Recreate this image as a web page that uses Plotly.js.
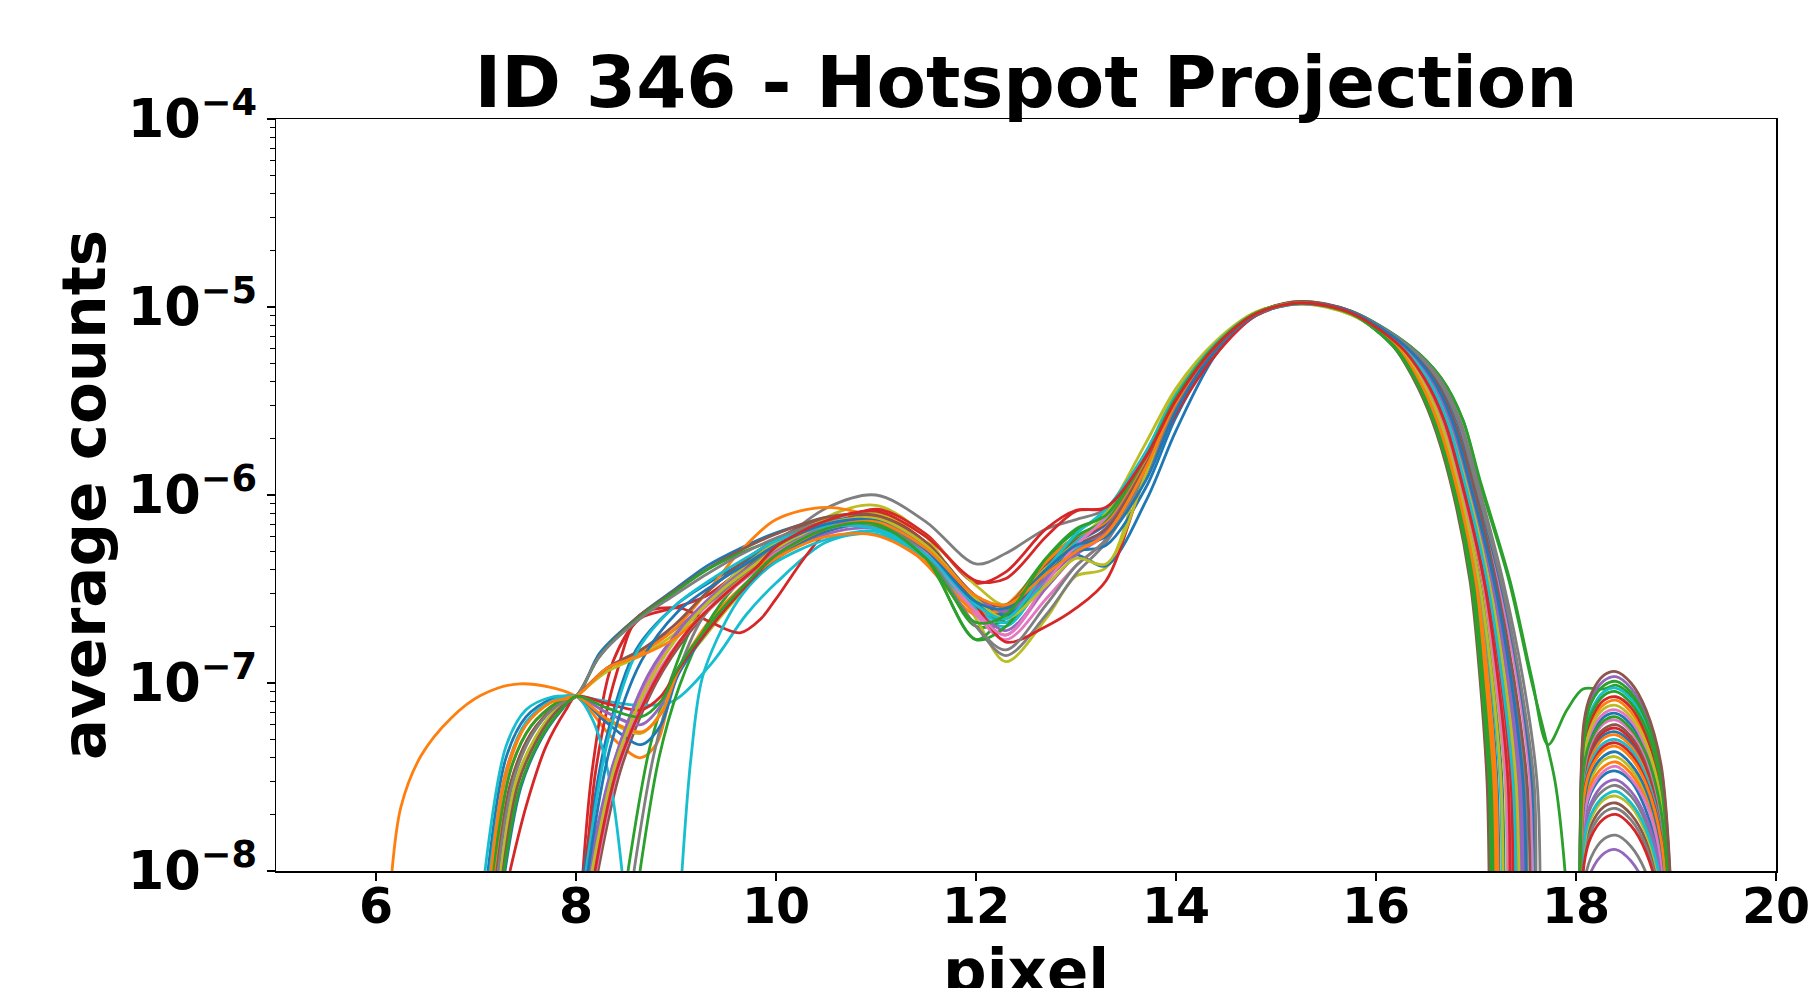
<!DOCTYPE html>
<html><head><meta charset="utf-8">
<script src="https://cdn.plot.ly/plotly-3.0.1.min.js"></script>
<style>html,body{margin:0;padding:0;background:#fff;} #chart{width:1811px;height:988px;}</style>
</head><body><div id="chart"></div>
<script>
// shared x grid for the middle part of every projection
const coreX = [10.0, 10.5, 11.0, 11.5, 12.0, 12.3, 12.7, 13.0, 13.3, 13.7, 14.0, 14.4, 14.8, 15.25, 15.75];
// levels at which the falling edge of each curve was read (x per series in tailX)
const tailLevels = [6.2e-6, 4.2e-6, 2.5e-6, 1.2e-6, 3.5e-7, 1.05e-7, 3e-8, 1e-8];
// x grid of the small secondary bump near pixel 18.4
const arcX = [18.04, 18.08, 18.15, 18.28, 18.4, 18.55, 18.7, 18.85, 18.94];

const headX = [
 [7.12,7.3,7.5,7.75,8.0,8.24,8.64,8.97,9.31,9.64],
 [6.16,6.25,6.45,6.75,7.05,7.44,8.0,8.35,8.64,8.81,9.0,9.35,9.7],
 [8.52,8.74,8.95,9.22,9.55,9.8],
 [8.07,8.17,8.37,8.64,8.97,9.3,9.65],
 [8.12,8.37,8.71,9.04,9.4,9.75],
 [8.22,8.45,8.8,9.15,9.5,9.8],
 [8.15,8.4,8.75,9.1,9.45,9.8],
 [7.2,7.35,7.55,7.8,8.0,8.31,8.65,8.97,9.3,9.64],
 [7.25,7.4,7.6,7.8,8.0,8.3,8.65,8.85,9.0,9.3,9.65],
 [7.09,7.3,7.5,7.75,8.0,8.3,8.64,8.97,9.37,9.7],
 [8.08,8.3,8.6,9.0,9.4,9.75],
 [7.16,7.3,7.5,7.75,8.0,8.31,8.65,8.97,9.3,9.64],
 [8.64,8.83,9.03,9.3,9.6,9.85],
 [8.1,8.2,8.4,8.64,9.04,9.35,9.64,9.85],
 [7.22,7.35,7.55,7.8,8.0,8.3,8.65,8.85,9.0,9.3,9.65],
 [7.2,7.35,7.55,7.8,8.0,8.22,8.6,8.95,9.3,9.62],
 [8.18,8.42,8.78,9.12,9.48,9.8],
 [8.58,8.78,8.98,9.26,9.6,9.85],
 [7.25,7.4,7.6,7.8,8.0,8.31,8.65,8.97,9.3,9.64],
 [7.14,7.3,7.5,7.75,8.0,8.17,8.34,8.46,null,9.06,9.15,9.27,9.57,9.8],
 [7.29,7.45,7.65,7.85,8.0,8.3,8.65,8.85,9.02,9.35,9.68],
 [7.18,7.35,7.55,7.8,8.0,8.3,8.66,8.86,9.02,9.35,9.68],
 [7.17,7.35,7.55,7.8,8.0,8.24,8.62,8.97,9.31,9.64],
 [7.34,7.5,7.7,7.9,8.0,8.3,8.65,8.85,9.03,9.35,9.68],
 [8.14,8.38,8.72,9.06,9.42,9.78],
 [7.27,7.42,7.62,7.82,8.0,8.31,8.65,8.97,9.3,9.64],
 [8.2,8.43,8.78,9.12,9.46,9.8],
 [7.22,7.37,7.57,7.8,8.0,8.24,8.64,8.97,9.31,9.64],
 [8.16,8.4,8.75,9.1,9.45,9.8],
 [8.1,8.32,8.62,9.0,9.4,9.75],
 [8.12,8.34,8.65,9.02,9.4,9.76],
 [7.15,7.3,7.5,7.75,8.0,8.31,8.65,8.97,9.3,9.64],
 [7.28,7.44,7.64,7.84,8.0,8.3,8.65,8.85,9.02,9.35,9.68],
 [8.19,8.42,8.78,9.12,9.47,9.8]
];
const headY = [
 [1e-8,4.0e-8,6.6e-8,8.2e-8,8.5e-8,1.45e-7,2.3e-7,3.1e-7,4.2e-7,5.2e-7],
 [1e-8,2.2e-8,4.1e-8,6.5e-8,8.6e-8,9.9e-8,8.5e-8,5.2e-8,4.0e-8,4.8e-8,1.1e-7,2.2e-7,3.4e-7],
 [1e-8,4.6e-8,1.05e-7,2.3e-7,3.6e-7,4.5e-7],
 [1e-8,3.7e-8,1.3e-7,2.2e-7,2.5e-7,2.9e-7,4.0e-7],
 [1e-8,3.7e-8,1.05e-7,1.9e-7,3.0e-7,4.2e-7],
 [1e-8,3.5e-8,1.0e-7,1.9e-7,3.0e-7,4.0e-7],
 [1e-8,4e-8,1.1e-7,2.0e-7,3.0e-7,4.2e-7],
 [1e-8,2.8e-8,5.2e-8,7.6e-8,8.5e-8,1.2e-7,1.5e-7,1.9e-7,2.6e-7,3.7e-7],
 [1e-8,3e-8,5.2e-8,7.2e-8,8.5e-8,6.4e-8,5.4e-8,7.0e-8,1.1e-7,1.8e-7,3.0e-7],
 [1e-8,4.6e-8,7.2e-8,8.4e-8,8.5e-8,8.0e-8,7.6e-8,8.0e-8,1.3e-7,2.3e-7],
 [1e-8,5e-8,1.5e-7,2.6e-7,3.6e-7,4.6e-7],
 [1e-8,3.2e-8,6.0e-8,7.9e-8,8.5e-8,1.2e-7,1.45e-7,1.9e-7,3.0e-7,5.0e-7],
 [1e-8,4e-8,9.5e-8,2.0e-7,3.3e-7,4.2e-7],
 [1e-8,3.5e-8,1.1e-7,2.3e-7,2.5e-7,2.1e-7,1.85e-7,2.2e-7],
 [1e-8,2.9e-8,5.3e-8,7.5e-8,8.5e-8,7.0e-8,6.0e-8,7.6e-8,1.15e-7,1.9e-7,3.1e-7],
 [1e-8,3.0e-8,5.4e-8,7.6e-8,8.5e-8,1.35e-7,2.2e-7,3.0e-7,4.0e-7,5.0e-7],
 [1e-8,3.8e-8,1.05e-7,1.9e-7,2.9e-7,4.0e-7],
 [1e-8,4.2e-8,1.0e-7,2.2e-7,3.5e-7,4.4e-7],
 [1e-8,3.0e-8,5.2e-8,7.2e-8,8.5e-8,1.15e-7,1.4e-7,1.8e-7,2.7e-7,4.0e-7],
 [1e-8,3.4e-8,6.2e-8,8.0e-8,8.5e-8,6.3e-8,3e-8,1e-8,null,1e-8,4e-8,1.1e-7,2.5e-7,3.6e-7],
 [1e-8,2.8e-8,5.0e-8,7.1e-8,8.5e-8,6.2e-8,4.7e-8,6.0e-8,1.1e-7,2.0e-7,3.2e-7],
 [1e-8,3.5e-8,5.9e-8,7.8e-8,8.5e-8,6.5e-8,5.5e-8,7.0e-8,1.15e-7,2.1e-7,3.3e-7],
 [1e-8,3.5e-8,5.9e-8,7.8e-8,8.5e-8,1.4e-7,2.2e-7,3.0e-7,4.0e-7,4.9e-7],
 [1e-8,2.2e-8,4.6e-8,7.2e-8,8.5e-8,7.8e-8,7.2e-8,8.5e-8,1.2e-7,2.0e-7,3.2e-7],
 [1e-8,3.8e-8,1.1e-7,2.0e-7,3.1e-7,4.3e-7],
 [1e-8,2.9e-8,5.1e-8,7.2e-8,8.5e-8,1.2e-7,1.5e-7,2.0e-7,3.0e-7,4.3e-7],
 [1e-8,3.6e-8,1.0e-7,1.9e-7,2.9e-7,4.0e-7],
 [1e-8,3.0e-8,5.4e-8,7.5e-8,8.5e-8,1.4e-7,2.2e-7,2.9e-7,3.8e-7,4.8e-7],
 [1e-8,3.8e-8,1.05e-7,2.0e-7,3.1e-7,4.3e-7],
 [1e-8,5e-8,1.5e-7,2.6e-7,3.7e-7,4.8e-7],
 [1e-8,4.5e-8,1.3e-7,2.4e-7,3.4e-7,4.5e-7],
 [1e-8,3.4e-8,6.0e-8,7.9e-8,8.5e-8,1.2e-7,1.4e-7,1.7e-7,2.4e-7,3.5e-7],
 [1e-8,2.8e-8,5.0e-8,7.1e-8,8.5e-8,7.4e-8,6.6e-8,8.0e-8,1.2e-7,2.1e-7,3.3e-7],
 [1e-8,3.6e-8,1.0e-7,1.9e-7,2.9e-7,4.1e-7]
];
const coreY = [
 [6.3e-7,7.4e-7,7.0e-7,4.8e-7,2.6e-7,2.5e-7,4.2e-7,5.6e-7,7.0e-7,1.6e-6,3.3e-6,6.3e-6,9.3e-6,1.06e-5,9.4e-6],
 [4.6e-7,6.4e-7,7.0e-7,5.0e-7,2.6e-7,2.3e-7,3.8e-7,5.2e-7,6.6e-7,1.5e-6,3.2e-6,6.2e-6,9.2e-6,1.05e-5,9.3e-6],
 [5.2e-7,6.8e-7,7.2e-7,5.0e-7,2.0e-7,2.2e-7,4.5e-7,6.0e-7,7.4e-7,1.55e-6,3.2e-6,6.2e-6,9.3e-6,1.06e-5,9.5e-6],
 [5.6e-7,7.4e-7,8.0e-7,5.6e-7,2.8e-7,2.3e-7,4.0e-7,5.6e-7,7.2e-7,1.55e-6,3.2e-6,6.2e-6,9.2e-6,1.05e-5,9.2e-6],
 [5.0e-7,6.6e-7,7.2e-7,5.2e-7,2.7e-7,2.2e-7,3.6e-7,5.0e-7,6.4e-7,1.4e-6,3.1e-6,6.1e-6,9.2e-6,1.06e-5,9.5e-6],
 [4.9e-7,6.7e-7,7.5e-7,5.4e-7,2.7e-7,2.1e-7,3.5e-7,5.0e-7,6.3e-7,1.4e-6,3.0e-6,6.0e-6,9.2e-6,1.07e-5,9.3e-6],
 [5.0e-7,6.5e-7,6.8e-7,4.8e-7,2.4e-7,1.8e-7,3.2e-7,4.8e-7,6.2e-7,1.4e-6,3.1e-6,6.2e-6,9.3e-6,1.05e-5,9.4e-6],
 [5.4e-7,8.5e-7,1.0e-6,7.2e-7,4.3e-7,4.9e-7,6.6e-7,7.4e-7,8.4e-7,1.6e-6,3.3e-6,6.3e-6,9.3e-6,1.06e-5,9.4e-6],
 [4.5e-7,7.6e-7,8.8e-7,6.0e-7,2.2e-7,1.3e-7,2.2e-7,3.7e-7,4.1e-7,1.6e-6,3.6e-6,6.5e-6,9.4e-6,1.04e-5,9.2e-6],
 [3.4e-7,5.6e-7,6.2e-7,4.6e-7,2.4e-7,2.0e-7,3.6e-7,5.2e-7,6.6e-7,1.45e-6,3.1e-6,6.1e-6,9.2e-6,1.05e-5,9.3e-6],
 [5.6e-7,7.2e-7,7.4e-7,5.2e-7,2.6e-7,2.4e-7,4.2e-7,4.8e-7,4.2e-7,9.3e-7,2.2e-6,5.6e-6,9.0e-6,1.05e-5,9.4e-6],
 [7.4e-7,8.6e-7,7.4e-7,4.3e-7,2.3e-7,2.6e-7,4.4e-7,6.0e-7,7.4e-7,1.6e-6,3.4e-6,6.4e-6,9.3e-6,1.06e-5,9.2e-6],
 [4.6e-7,6.4e-7,6.9e-7,4.6e-7,1.7e-7,2.4e-7,4.6e-7,6.4e-7,8.0e-7,1.6e-6,3.3e-6,6.3e-6,9.3e-6,1.05e-5,9.5e-6],
 [2.8e-7,6.3e-7,8.4e-7,6.2e-7,3.4e-7,3.9e-7,6.6e-7,8.3e-7,8.5e-7,1.5e-6,3.1e-6,6.1e-6,9.2e-6,1.05e-5,9.3e-6],
 [4.6e-7,6.2e-7,6.6e-7,4.8e-7,2.5e-7,1.9e-7,3.2e-7,4.8e-7,6.4e-7,1.4e-6,3.0e-6,6.1e-6,9.2e-6,1.05e-5,9.4e-6],
 [6.2e-7,7.6e-7,7.6e-7,5.3e-7,2.8e-7,2.6e-7,4.3e-7,5.8e-7,7.2e-7,1.6e-6,3.3e-6,6.3e-6,9.3e-6,1.06e-5,9.2e-6],
 [4.8e-7,6.4e-7,7.0e-7,5.0e-7,2.3e-7,1.7e-7,2.8e-7,4.2e-7,5.8e-7,1.3e-6,3.0e-6,6.1e-6,9.2e-6,1.05e-5,9.5e-6],
 [4.9e-7,6.5e-7,7.2e-7,4.8e-7,2.0e-7,1.4e-7,2.3e-7,3.8e-7,5.6e-7,1.3e-6,2.9e-6,6.0e-6,9.2e-6,1.05e-5,9.5e-6],
 [5.6e-7,7.4e-7,8.0e-7,6.0e-7,3.3e-7,2.6e-7,4.1e-7,5.6e-7,8.0e-7,1.9e-6,3.7e-6,6.6e-6,9.4e-6,1.04e-5,9.1e-6],
 [4.4e-7,5.8e-7,6.4e-7,4.6e-7,2.5e-7,2.1e-7,3.6e-7,5.6e-7,7.6e-7,1.7e-6,3.4e-6,6.4e-6,9.3e-6,1.05e-5,9.3e-6],
 [4.6e-7,6.4e-7,7.0e-7,5.0e-7,2.6e-7,2.3e-7,3.8e-7,5.0e-7,5.4e-7,1.1e-6,2.6e-6,5.9e-6,9.1e-6,1.05e-5,9.5e-6],
 [4.6e-7,6.0e-7,6.1e-7,4.4e-7,2.4e-7,2.5e-7,4.4e-7,6.0e-7,7.2e-7,1.5e-6,3.2e-6,6.2e-6,9.2e-6,1.05e-5,9.2e-6],
 [5.8e-7,6.9e-7,6.9e-7,4.6e-7,1.7e-7,2.0e-7,4.0e-7,6.0e-7,7.4e-7,1.6e-6,3.3e-6,6.3e-6,9.3e-6,1.06e-5,9.2e-6],
 [4.8e-7,6.6e-7,7.6e-7,5.6e-7,2.6e-7,1.65e-7,2.0e-7,2.5e-7,3.5e-7,1.3e-6,2.7e-6,5.6e-6,9.0e-6,1.05e-5,9.4e-6],
 [5.0e-7,6.8e-7,7.4e-7,5.3e-7,2.9e-7,2.4e-7,3.6e-7,5.0e-7,6.7e-7,1.45e-6,3.1e-6,6.1e-6,9.2e-6,1.05e-5,9.4e-6],
 [5.8e-7,7.6e-7,7.8e-7,5.6e-7,2.9e-7,2.6e-7,4.0e-7,5.4e-7,6.6e-7,1.45e-6,3.1e-6,6.2e-6,9.3e-6,1.07e-5,9.5e-6],
 [4.9e-7,6.6e-7,7.0e-7,4.9e-7,2.4e-7,1.8e-7,3.4e-7,5.4e-7,7.6e-7,1.6e-6,3.3e-6,6.2e-6,9.2e-6,1.05e-5,9.3e-6],
 [5.9e-7,7.2e-7,7.2e-7,4.8e-7,2.0e-7,1.5e-7,2.6e-7,4.2e-7,5.8e-7,1.3e-6,3.0e-6,6.0e-6,9.1e-6,1.04e-5,9.4e-6],
 [5.2e-7,7.0e-7,7.5e-7,5.4e-7,2.8e-7,2.2e-7,3.3e-7,4.6e-7,4.3e-7,1.3e-6,3.3e-6,6.3e-6,9.3e-6,1.05e-5,9.1e-6],
 [5.7e-7,6.8e-7,6.6e-7,4.8e-7,2.6e-7,2.2e-7,4.0e-7,6.2e-7,8.4e-7,1.7e-6,3.4e-6,6.3e-6,9.2e-6,1.04e-5,9.3e-6],
 [5.4e-7,7.0e-7,7.3e-7,5.1e-7,2.7e-7,2.5e-7,4.0e-7,5.4e-7,6.0e-7,1.2e-6,2.8e-6,6.0e-6,9.1e-6,1.05e-5,9.4e-6],
 [4.8e-7,6.6e-7,7.2e-7,5.2e-7,2.9e-7,2.6e-7,3.8e-7,5.0e-7,6.2e-7,1.4e-6,3.1e-6,6.2e-6,9.2e-6,1.05e-5,9.2e-6],
 [4.8e-7,6.6e-7,7.0e-7,4.6e-7,2.1e-7,2.3e-7,4.6e-7,6.6e-7,7.8e-7,1.6e-6,3.3e-6,6.3e-6,9.3e-6,1.05e-5,9.2e-6],
 [5.3e-7,7.3e-7,8.2e-7,6.0e-7,3.5e-7,3.6e-7,6.0e-7,8.2e-7,8.6e-7,1.6e-6,3.2e-6,6.2e-6,9.2e-6,1.05e-5,9.3e-6]
];
const tailX = [
 [16.22,16.45,16.64,16.82,17.04,17.17,17.26,17.28],
 [16.26,16.51,16.71,16.89,17.12,17.28,17.39,17.41],
 [16.34,16.65,16.87,17.04,17.34,17.56],
 [16.19,16.40,16.59,16.77,16.97,17.08,17.16,17.18],
 [16.27,16.53,16.73,16.91,17.14,17.31,17.42,17.45],
 [16.17,16.37,16.56,16.74,16.94,17.04,17.11,17.13],
 [16.24,16.49,16.69,16.86,17.09,17.23,17.34,17.36],
 [16.29,16.57,16.77,16.94,17.19,17.36,17.49,17.51],
 [16.23,16.46,16.66,16.83,17.06,17.19,17.29,17.31],
 [16.25,16.50,16.70,16.88,17.11,17.26,17.36,17.39],
 [16.20,16.42,16.62,16.79,17.01,17.13,17.21,17.23],
 [16.19,16.41,16.60,16.78,16.99,17.10,17.19,17.21],
 [16.34,16.65,16.87,17.03,17.33,17.55,17.79,17.89],
 [16.23,16.47,16.67,16.85,17.07,17.21,17.31,17.33],
 [16.28,16.55,16.76,16.93,17.17,17.34,17.46,17.49],
 [16.18,16.38,16.57,16.75,16.96,17.06,17.14,17.16],
 [16.31,16.59,16.80,16.97,17.22,17.41,17.54,17.56],
 [16.33,16.63,16.84,17.01,17.27,17.47,17.61,17.64],
 [16.26,16.52,16.72,16.90,17.13,17.29,17.40,17.43],
 [16.21,16.44,16.63,16.81,17.02,17.15,17.24,17.26],
 [16.31,16.60,16.81,16.98,17.24,17.43,17.56,17.59],
 [16.19,16.40,16.59,16.77,16.98,17.09,17.17,17.19],
 [16.17,16.38,16.57,16.75,16.95,17.05,17.13,17.15],
 [16.25,16.49,16.69,16.87,17.10,17.25,17.35,17.37],
 [16.28,16.54,16.74,16.92,17.16,17.32,17.44,17.47],
 [16.30,16.58,16.78,16.96,17.20,17.38,17.51,17.54],
 [16.23,16.47,16.67,16.84,17.07,17.20,17.30,17.32],
 [16.32,16.61,16.82,16.99,17.25,17.44,17.58,17.60],
 [16.21,16.44,16.64,16.81,17.03,17.16,17.25,17.27],
 [16.25,16.51,16.71,16.88,17.11,17.26,17.37,17.40],
 [16.29,16.56,16.76,16.93,17.18,17.35,17.47,17.50],
 [16.20,16.42,16.61,16.79,17.00,17.12,17.20,17.22],
 [16.18,16.39,16.58,16.76,16.97,17.07,17.15,17.17],
 [16.24,16.48,16.68,16.85,17.08,17.22,17.32,17.34]
];
// the green curve that dips to a cusp and climbs straight into its bump
const linkX = [17.72, 17.91, 18.07];
const linkY = [4.7e-8, 7.2e-8, 9.3e-8];
const arcY = [
 [6.0e-9,3.7e-8,5.2e-8,6.6e-8,6.9e-8,6.0e-8,4.3e-8,2.2e-8,6.0e-9],
 [7.0e-9,4.4e-8,6.2e-8,7.7e-8,8.1e-8,7.0e-8,5.1e-8,2.6e-8,7.0e-9],
 [8.5e-9,5.3e-8,7.4e-8,9.3e-8,9.75e-8,8.5e-8,6.1e-8,3.1e-8,8.5e-9],
 [7.4e-9,4.6e-8,6.4e-8,8.1e-8,8.45e-8,7.4e-8,5.3e-8,2.7e-8,7.4e-9],
 [9.4e-9,5.8e-8,8.2e-8,1.03e-7,1.08e-7,9.4e-8,6.8e-8,3.5e-8,9.4e-9],
 [2.0e-9,1.24e-8,1.75e-8,2.2e-8,2.3e-8,2.0e-8,1.45e-8,7.4e-9,2.0e-9],
 [6.3e-9,3.9e-8,5.5e-8,6.9e-8,7.2e-8,6.3e-8,4.5e-8,2.3e-8,6.3e-9],
 [1.35e-9,8.4e-9,1.18e-8,1.48e-8,1.55e-8,1.35e-8,9.8e-9,5.0e-9,1.35e-9],
 [6.6e-9,4.1e-8,5.8e-8,7.3e-8,7.6e-8,6.6e-8,4.8e-8,2.4e-8,6.6e-9],
 [8.2e-9,5.1e-8,7.1e-8,9.0e-8,9.4e-8,8.2e-8,5.9e-8,3.0e-8,8.2e-9],
 [4.8e-9,3.0e-8,4.2e-8,5.3e-8,5.5e-8,4.8e-8,3.5e-8,1.76e-8,4.8e-9],
 [4.6e-9,2.9e-8,4.0e-8,5.1e-8,5.3e-8,4.6e-8,3.3e-8,1.7e-8,4.6e-9],
 [8.9e-9,5.5e-8,7.8e-8,9.7e-8,1.02e-7,8.9e-8,6.4e-8,3.3e-8,8.9e-9],
 [5.0e-9,3.1e-8,4.4e-8,5.5e-8,5.75e-8,5.0e-8,3.6e-8,1.8e-8,5.0e-9],
 [1.1e-9,7.0e-9,9.9e-9,1.24e-8,1.3e-8,1.13e-8,8.2e-9,4.2e-9,1.1e-9],
 [5.2e-9,3.2e-8,4.6e-8,5.7e-8,6.0e-8,5.2e-8,3.8e-8,1.9e-8,5.2e-9],
 [5.5e-9,3.4e-8,4.8e-8,6.1e-8,6.35e-8,5.5e-8,4.0e-8,2.0e-8,5.5e-9],
 [2.5e-9,1.54e-8,2.2e-8,2.7e-8,2.85e-8,2.5e-8,1.8e-8,9.1e-9,2.5e-9],
 [3.5e-9,2.2e-8,3.1e-8,3.9e-8,4.05e-8,3.5e-8,2.55e-8,1.3e-8,3.5e-9],
 [4.4e-9,2.7e-8,3.8e-8,4.8e-8,5.0e-8,4.4e-8,3.2e-8,1.6e-8,4.4e-9],
 [3.0e-9,1.84e-8,2.6e-8,3.25e-8,3.4e-8,3.0e-8,2.1e-8,1.09e-8,3.0e-9],
 [3.3e-9,2.05e-8,2.9e-8,3.6e-8,3.8e-8,3.3e-8,2.4e-8,1.22e-8,3.3e-9],
 [7.8e-9,4.9e-8,6.8e-8,8.6e-8,9.0e-8,7.8e-8,5.7e-8,2.9e-8,7.8e-9],
 [4.2e-9,2.6e-8,3.6e-8,4.6e-8,4.8e-8,4.2e-8,3.0e-8,1.54e-8,4.2e-9],
 [2.7e-9,1.65e-8,2.3e-8,2.9e-8,3.05e-8,2.65e-8,1.92e-8,9.8e-9,2.7e-9],
 [1.0e-8,6.2e-8,8.7e-8,1.1e-7,1.15e-7,1.0e-7,7.2e-8,3.7e-8,1.0e-8],
 [3.1e-9,1.95e-8,2.7e-8,3.4e-8,3.6e-8,3.1e-8,2.3e-8,1.15e-8,3.1e-9],
 [1.9e-9,1.16e-8,1.63e-8,2.05e-8,2.15e-8,1.87e-8,1.35e-8,6.9e-9,1.9e-9],
 [2.2e-9,1.35e-8,1.9e-8,2.4e-8,2.5e-8,2.2e-8,1.58e-8,8.0e-9,2.2e-9],
 [2.3e-9,1.43e-8,2.0e-8,2.5e-8,2.65e-8,2.3e-8,1.67e-8,8.5e-9,2.3e-9],
 [3.7e-9,2.3e-8,3.3e-8,4.1e-8,4.3e-8,3.7e-8,2.7e-8,1.38e-8,3.7e-9],
 [4.0e-9,2.5e-8,3.5e-8,4.4e-8,4.6e-8,4.0e-8,2.9e-8,1.47e-8,4.0e-9],
 [5.7e-9,3.6e-8,5.0e-8,6.3e-8,6.6e-8,5.7e-8,4.2e-8,2.1e-8,5.7e-9],
 [1.7e-9,1.08e-8,1.52e-8,1.9e-8,2.0e-8,1.74e-8,1.26e-8,6.4e-9,1.7e-9]
];
const palette = ['#1f77b4','#ff7f0e','#2ca02c','#d62728','#9467bd','#8c564b','#e377c2','#7f7f7f','#bcbd22','#17becf'];

const traces = [];
for (let i = 0; i < headX.length; i++) {
  let x = headX[i].concat(coreX, tailX[i]);
  let y = headY[i].concat(coreY[i], tailLevels.slice(0, tailX[i].length));
  if (tailX[i].length < tailLevels.length) {
    // curve continues without a gap into its bump
    x = x.concat(linkX, arcX.slice(3));
    y = y.concat(linkY, arcY[i].slice(3));
  } else {
    x = x.concat([null], arcX);
    y = y.concat([null], arcY[i]);
  }
  traces.push({
    x: x, y: y, type: 'scatter', mode: 'lines',
    line: {color: palette[i % 10], width: 2.8, shape: 'spline', smoothing: 0.9},
    connectgaps: false, hoverinfo: 'skip', showlegend: false
  });
}

const fontFam = 'DejaVu Sans, Verdana, sans-serif';
const labelFont = {family: fontFam, size: 61, weight: 'bold', color: '#000'};
const layout = {
  width: 1811, height: 988,
  margin: {l: 276, r: 35, t: 119, b: 117, autoexpand: false},
  paper_bgcolor: '#ffffff', plot_bgcolor: '#ffffff',
  font: {family: fontFam, color: '#000', weight: 'bold'},
  showlegend: false,
  title: {text: 'ID 346 - Hotspot Projection', font: {family: fontFam, size: 72, weight: 'bold', color: '#000'},
          x: 0.5, xref: 'paper', xanchor: 'center', y: 0.917, yref: 'container', yanchor: 'middle'},
  xaxis: {range: [5, 20], tick0: 0, dtick: 2, ticks: 'outside', ticklen: 8, tickwidth: 1.5, tickcolor: '#000',
          showline: true, linecolor: '#000', linewidth: 1.5, mirror: true, showgrid: false, zeroline: false,
          tickfont: {family: fontFam, size: 49, weight: 'bold', color: '#000'}, ticklabelstandoff: -16},
  yaxis: {type: 'log', range: [-8, -4], tick0: 0, dtick: 1, exponentformat: 'power', showexponent: 'all',
          ticks: 'outside', ticklen: 8, tickwidth: 1.5, tickcolor: '#000',
          showline: true, linecolor: '#000', linewidth: 1.5, mirror: true, showgrid: false, zeroline: false,
          tickfont: {family: fontFam, size: 42, weight: 'bold', color: '#000'}, ticklabelstandoff: 1,
          minor: {ticks: 'outside', ticklen: 4.5, tickwidth: 1.2, tickcolor: '#000', showgrid: false, dtick: 'D1'}},
  annotations: [
    {text: 'pixel', xref: 'paper', yref: 'paper', x: 0.5, y: -0.0824, xanchor: 'center', yanchor: 'top',
     showarrow: false, font: labelFont},
    {text: 'average counts', xref: 'paper', yref: 'paper', x: -0.1286, y: 0.5, xanchor: 'center', yanchor: 'middle',
     textangle: -90, showarrow: false, font: labelFont}
  ]
};
Plotly.newPlot('chart', traces, layout, {displayModeBar: false, staticPlot: true});
</script>
</body></html>
